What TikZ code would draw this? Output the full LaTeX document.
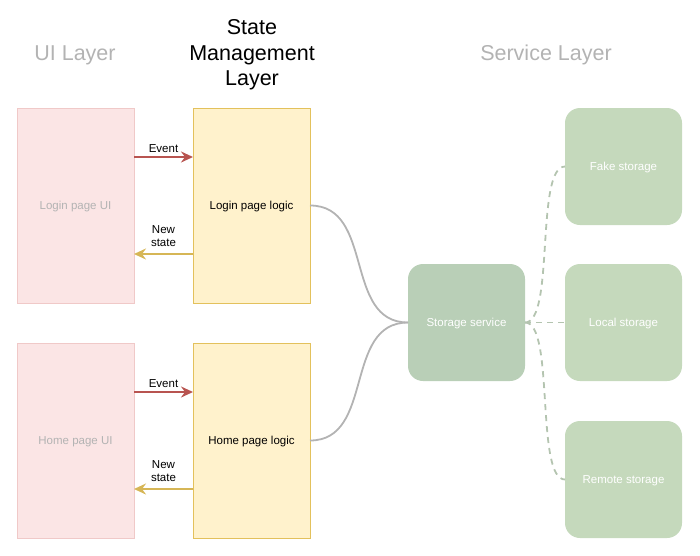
\documentclass[tikz,border=0pt]{standalone}
\usepackage{fontspec}
\setmainfont{Liberation Sans}
\usepackage{xcolor}
\definecolor{mainGray}{HTML}{B3B3B3}
\definecolor{uiFill}{HTML}{FBE5E5}
\definecolor{uiBorder}{HTML}{F0C9C8}
\definecolor{logicFill}{HTML}{FFF2CC}
\definecolor{logicBorder}{HTML}{E3C15C}
\definecolor{serviceFill}{HTML}{B9CFB7}
\definecolor{storageFill}{HTML}{C5D9BC}
\definecolor{eventColor}{HTML}{B85450}
\definecolor{stateColor}{HTML}{D6B656}
\definecolor{dashColor}{HTML}{B4C4B0}
\usepackage{tikz}
\usetikzlibrary{positioning,calc,arrows.meta}
\tikzset{
  uiBox/.style={
    rectangle,
    draw=uiBorder,
    fill=uiFill,
    text=mainGray,
    minimum width=117pt,
    minimum height=195pt,
    font=\fontsize{11.5}{13}\selectfont,
    text depth=0pt,
    align=center
 },
  logicBox/.style={
    rectangle,
    draw=logicBorder,
    fill=logicFill,
    minimum width=117pt,
    minimum height=195pt,
    font=\fontsize{11.5}{13}\selectfont,
    text depth=0pt,
    align=center
 },
  serviceBox/.style={
    rectangle,
    rounded corners=15pt,
    fill=serviceFill,
    text=white,
    minimum width=117pt,
    minimum height=117pt,
    font=\fontsize{11.5}{13}\selectfont,
    text depth=0pt,
    align=center
 },
  storageBox/.style={
    serviceBox,
    fill=storageFill
 },
  layerTitle/.style={
    font=\fontsize{21.5}{25.5}\selectfont,
    align=center
 },
  eventLine/.style={
    -{Stealth[length=12pt,width=11pt,inset=4pt]},
    line width=2.2pt,
    color=eventColor
 },
  stateLine/.style={
    -{Stealth[length=12pt,width=11pt,inset=4pt]},
    line width=2.2pt,
    color=stateColor
 },
  linkLine/.style={
    line width=1.8pt,
    color=mainGray
 },
  dashLine/.style={
    line width=1.8pt,
    color=dashColor,
    dash pattern=on 6pt off 5pt
 },
  arrowLabel/.style={
    font=\fontsize{11.5}{13.5}\selectfont,
    text=black,
    align=center
 }
}

\begin{document}
\begin{tikzpicture}[x=1pt,y=-1pt,node distance=40pt,outer sep=0pt]
            \useasboundingbox (0,0) rectangle (700,555);
            % layer titles
            \node[layerTitle, text=mainGray] (uiTitle) at (75,55) {UI Layer};
            \node[layerTitle] (stateTitle) at (252,55) {State\\Management\\Layer};
            \node[layerTitle, text=mainGray] (serviceTitle) at (546,55) {Service Layer};

            % login page
            \node[uiBox] (loginUI) at (75.5,205.5) {Login page UI};
            \node[logicBox, right=59pt of loginUI] (loginLogic) {Login page logic};

            \draw[eventLine] ([yshift=48.5pt]loginUI.east) -- node[arrowLabel, above=1.5pt]{Event} ([yshift=48.5pt]loginLogic.west);
            \draw[stateLine] ([yshift=-48.5pt]loginLogic.west) -- node[arrowLabel, above=4pt]{New\\state} ([yshift=-48.5pt]loginUI.east);

            % home page
            \node[uiBox, below=40pt of loginUI] (homeUI) {Home page UI};
            \node[logicBox, right=59pt of homeUI] (homeLogic) {Home page logic};

            \draw[eventLine] ([yshift=48.5pt]homeUI.east) -- node[arrowLabel, above=1.5pt]{Event} ([yshift=48.5pt]homeLogic.west);
            \draw[stateLine] ([yshift=-48.5pt]homeLogic.west) -- node[arrowLabel, above=4pt]{New\\state} ([yshift=-48.5pt]homeUI.east);

            % service box
            \node[serviceBox] (service) at (466.5,322.5) {Storage service};

            \draw[linkLine] (loginLogic.east) .. controls +(65,0) and +(-65,0) .. (service.west);
            \draw[linkLine] (homeLogic.east) .. controls +(65,0) and +(-65,0) .. (service.west);

            % storage boxes
            \node[storageBox, right=40pt of service] (local) {Local storage};
            \node[storageBox, above=39pt of local] (fake) {Fake storage};
            \node[storageBox, below=40pt of local] (remote) {Remote storage};

            \draw[dashLine] (service.east) .. controls +(30,0) and +(-30,0) .. (fake.west);
            \draw[dashLine] (service.east) -- (local.west);
            \draw[dashLine] (service.east) .. controls +(30,0) and +(-30,0) .. (remote.west);
        \end{tikzpicture}
\end{document}
